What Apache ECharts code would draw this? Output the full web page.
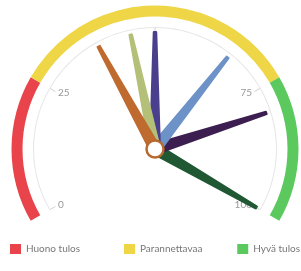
<!DOCTYPE html>
<html>
<head>
<meta charset="utf-8">
<script src="https://cdn.jsdelivr.net/npm/echarts@6/dist/echarts.min.js"></script>
<style>
  html, body { margin: 0; padding: 0; background: #fff; }
  #chart { width: 301px; height: 271px; }
</style>
</head>
<body>
<div id="chart"></div>
<script>
// tulosalueet
const bandNames = ['Huono tulos', 'Parannettavaa', 'Hyvä tulos']
const bandLimits = [25, 75, 100]
const bandColors = ['#e9444b', '#eed646', '#5cc95f']

// osoittimet
const needleValues = [100, 80, 66, 50, 45, 38]
const needleColors = ['#1f5833', '#3c1f50', '#6c92c8', '#4a3f8d', '#b4bf78', '#bf6a2f']

const tickLabels = [0, 25, 75, 100]

const FONT = 'Lato, "Noto Sans", sans-serif'
const center = [155, 149]

const chart = echarts.init(document.getElementById('chart'))

// piirakka kaarena: 240 astetta = 100, loput 120 astetta täytteenä
const bandData = bandNames.map((name, i) => ({
  name,
  value: bandLimits[i] - (i ? bandLimits[i - 1] : 0),
  itemStyle: { color: bandColors[i] }
}))
bandData.push({ name: '', value: 50, itemStyle: { color: 'rgba(0,0,0,0)' } })

// kapeneva neula, kärki ylhäällä, kanta keskipisteessä
const needlePath = 'path://M3.8,0 L6.2,0 Q6.9,0 6.9,1.5 L10,100 L0,100 L3.1,1.5 Q3.1,0 3.8,0 Z'

const legendPos = [{ left: 10 }, { left: 124 }, { right: 1 }]

const option = {
  animation: false,
  legend: bandNames.map((name, i) => ({
    data: [name],
    ...legendPos[i],
    top: 244,
    padding: 0,
    icon: 'rect',
    itemWidth: 11,
    itemHeight: 10,
    itemGap: 5,
    selectedMode: false,
    textStyle: { fontSize: 10, color: '#777', fontFamily: FONT }
  })),
  series: [
    {
      type: 'pie',
      silent: true,
      center: center,
      radius: [132.5, 143.5],
      startAngle: 210,
      clockwise: true,
      label: { show: false },
      labelLine: { show: false },
      emphasis: { disabled: true },
      data: bandData
    },
    {
      type: 'gauge',
      center: center,
      radius: 122,
      startAngle: 210,
      endAngle: -30,
      min: 0,
      max: 100,
      splitNumber: 4,
      axisLine: { lineStyle: { width: 1, color: [[1, '#e6e6e6']] } },
      axisTick: { show: false },
      splitLine: { length: 6, distance: 0, lineStyle: { color: '#d0d0d0', width: 1 } },
      axisLabel: {
        distance: 4,
        fontSize: 10,
        color: '#999',
        fontFamily: FONT,
        formatter: (v) => (tickLabels.includes(v) ? String(v) : '')
      },
      pointer: { icon: needlePath, length: 118, width: 12, keepAspect: false },
      anchor: {
        show: true,
        showAbove: true,
        size: 17,
        itemStyle: { color: '#fff', borderColor: '#b7692f', borderWidth: 2.5 }
      },
      title: { show: false },
      detail: { show: false },
      data: needleValues.map((v, i) => ({
        value: v,
        itemStyle: { color: needleColors[i] }
      }))
    }
  ]
}

chart.setOption(option)
window.addEventListener('resize', () => chart.resize())
</script>
</body>
</html>
